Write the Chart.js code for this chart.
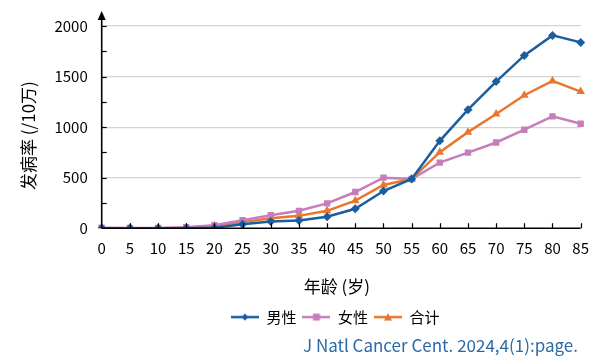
<!DOCTYPE html>
<html>
<head>
<meta charset="utf-8">
<script src="https://cdn.jsdelivr.net/npm/chart.js@4/dist/chart.umd.min.js"></script>
<style>
html,body{margin:0;padding:0;background:#fff;}
#wrap{position:relative;width:600px;height:362px;}
</style>
</head>
<body>
<div id="wrap"><canvas id="c" width="600" height="362"></canvas></div>
<script>
const ages = ['0','5','10','15','20','25','30','35','40','45','50','55','60','65','70','75','80','85'];
const male   = [0,0,0,0,5,40,66,76,113,192,368,487,864,1172,1450,1709,1907,1838];
const female = [5,3,3,10,30,79,129,172,245,358,500,487,649,748,848,974,1106,1033];
const total  = [0,0,0,5,25,60,99,122,172,272,427,487,752,950,1129,1315,1457,1351];
const seriesNames = ['男性','女性','合计'];
const yTickValues = [0,500,1000,1500,2000];
const citation = 'J Natl Cancer Cent. 2024,4(1):page.';

const BLUE='#1a5e9f', PINK='#c87cb9', ORANGE='#e8772e';
const FONT = '"Noto Sans CJK SC","Noto Sans",sans-serif';

function legendIcon(color, style){
  const c=document.createElement('canvas'); c.width=28; c.height=12;
  const g=c.getContext('2d');
  g.strokeStyle=color; g.lineWidth=2.5;
  g.beginPath(); g.moveTo(0,6); g.lineTo(28,6); g.stroke();
  g.fillStyle=color; g.beginPath();
  if(style==='rectRot'){ g.moveTo(14,2.5);g.lineTo(17.5,6);g.lineTo(14,9.5);g.lineTo(10.5,6);g.closePath(); }
  else if(style==='rect'){ g.rect(10.5,2.5,7,7); }
  else { g.moveTo(14,2);g.lineTo(18,9.5);g.lineTo(10,9.5);g.closePath(); }
  g.fill();
  return c;
}

const axisDecor = {
  id:'axisDecor',
  afterLayout(chart){
    const ca=chart.chartArea;
    if(chart.legend){
      const target=(ca.left+ca.right)/2-6;
      const cur=(chart.legend.left+chart.legend.right)/2;
      const d=target-cur;
      chart.legend.left+=d; chart.legend.right+=d;
    }
    chart.boxes.forEach(b=>{
      if(b.options && b.options.text===citation){
        const d=578-b.right; b.left+=d; b.right+=d;
      }
    });
  },
  afterDatasetsDraw(chart){
    const g=chart.ctx, x=chart.scales.x, y=chart.scales.y;
    const ca=chart.chartArea;
    g.save();
    g.strokeStyle='#000'; g.lineWidth=1.6;
    g.beginPath(); g.moveTo(ca.left, ca.bottom); g.lineTo(ca.left, ca.top-12); g.stroke();
    g.fillStyle='#000'; g.beginPath();
    g.moveTo(ca.left, ca.top-15); g.lineTo(ca.left-4, ca.top-6); g.lineTo(ca.left+4, ca.top-6); g.closePath(); g.fill();
    g.beginPath(); g.moveTo(ca.left, ca.bottom); g.lineTo(ca.right, ca.bottom); g.stroke();
    g.lineWidth=1.2;
    for(let v=250; v<=2000; v+=250){
      const py=Math.round(y.getPixelForValue(v))+0.5;
      g.beginPath(); g.moveTo(ca.left, py); g.lineTo(ca.left+5, py); g.stroke();
    }
    for(let i=1;i<ages.length;i++){
      const px=Math.round(x.getPixelForValue(i))+0.5;
      g.beginPath(); g.moveTo(px, ca.bottom); g.lineTo(px, ca.bottom-5); g.stroke();
    }
    g.restore();
  }
};

new Chart(document.getElementById('c'), {
  type:'line',
  data:{
    labels: ages,
    datasets:[
      {label:seriesNames[0], data:male, borderColor:BLUE, backgroundColor:BLUE, pointStyle:'rectRot', pointRadius:4.5, borderWidth:2.5, pointBorderWidth:0},
      {label:seriesNames[1], data:female, borderColor:PINK, backgroundColor:PINK, pointStyle:'rect', pointRadius:4.5, borderWidth:2.5, pointBorderWidth:0},
      {label:seriesNames[2], data:total, borderColor:ORANGE, backgroundColor:ORANGE, pointStyle:'triangle', pointRadius:5, borderWidth:2.5, pointBorderWidth:0}
    ]
  },
  options:{
    responsive:false, animation:false,
    layout:{padding:{left:18,right:12,top:26,bottom:6}},
    plugins:{
      legend:{
        position:'bottom',
        labels:{
          font:{family:FONT,size:15}, color:'#000', usePointStyle:true, pointStyleWidth:28, boxHeight:12, padding:6,
          generateLabels(chart){
            const st=['rectRot','rect','triangle'], col=[BLUE,PINK,ORANGE];
            return chart.data.datasets.map((d,i)=>({text:d.label, pointStyle:legendIcon(col[i],st[i]), fillStyle:col[i], strokeStyle:col[i], lineWidth:0, datasetIndex:i, fontColor:'#000'}));
          }
        }
      },
      subtitle:{
        display:true, position:'bottom', align:'end', text:citation,
        color:'#2b6aa6', font:{family:FONT,size:17}, padding:{top:1,bottom:0}
      },
      tooltip:{enabled:false}
    },
    scales:{
      x:{
        offset:false,
        grid:{display:false, drawTicks:false},
        border:{display:false},
        ticks:{font:{family:FONT,size:15}, color:'#000', padding:11, maxRotation:0, autoSkip:false},
        title:{display:true, text:'年龄 (岁)\u2002', font:{family:FONT,size:17}, color:'#000', padding:{top:8,bottom:7}}
      },
      y:{
        min:0, max:2000,
        afterBuildTicks(s){ s.ticks = yTickValues.map(v=>({value:v})); },
        grid:{color:(c)=> c.tick && c.tick.value>0 ? '#d4d4d4' : 'rgba(0,0,0,0)', drawTicks:false, lineWidth:1.2},
        border:{display:false},
        ticks:{font:{family:FONT,size:15}, color:'#000', padding:14, callback:(v)=>String(v)},
        title:{display:true, text:'发病率 (/10万)\u3000', font:{family:FONT,size:17}, color:'#000', padding:{top:0,bottom:2}}
      }
    }
  },
  plugins:[axisDecor]
});
</script>
</body>
</html>
